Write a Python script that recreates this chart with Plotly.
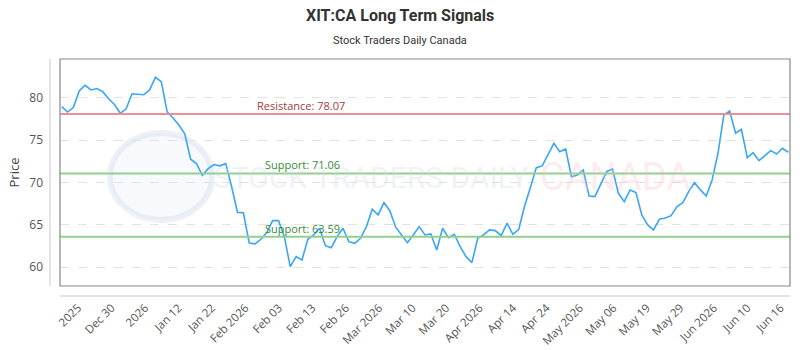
import plotly.graph_objects as go

# ---- data ----
prices = [
    78.94, 78.31, 78.87, 80.81, 81.46, 80.91, 81.08, 80.71, 79.87, 79.20,
    78.16, 78.69, 80.46, 80.44, 80.34, 80.91, 82.41, 81.87, 78.33, 77.60,
    76.78, 75.75, 72.74, 72.22, 70.84, 71.63, 72.12, 71.96, 72.24, 69.50,
    66.47, 66.42, 62.86, 62.76, 63.30, 64.10, 65.50, 65.50, 63.60, 60.07,
    61.25, 60.86, 63.30, 63.81, 64.60, 62.55, 62.31, 63.61, 64.60, 63.02,
    62.83, 63.42, 64.79, 66.84, 66.17, 67.62, 66.67, 64.72, 63.81, 62.90,
    63.81, 64.79, 63.81, 63.93, 62.04, 64.60, 63.49, 63.89, 62.43, 61.25,
    60.54, 63.42, 63.81, 64.40, 64.32, 63.73, 65.19, 63.89, 64.48, 67.23,
    69.43, 71.75, 71.95, 73.24, 74.62, 73.63, 73.95, 70.68, 70.88, 71.47,
    68.41, 68.33, 69.91, 71.28, 71.59, 68.72, 67.74, 69.12, 68.80, 66.17,
    64.99, 64.40, 65.66, 65.82, 66.08, 67.15, 67.62, 68.92, 69.98, 69.12,
    68.41, 70.29, 73.44, 77.96, 78.43, 75.80, 76.27, 72.92, 73.51, 72.57,
    73.16, 73.75, 73.36, 74.03, 73.56,
]
tick_labels = [
    "2025", "Dec 30", "2026", "Jan 12", "Jan 22", "Feb 2026", "Feb 03", "Feb 13",
    "Feb 26", "Mar 2026", "Mar 10", "Mar 20", "Apr 2026", "Apr 14", "Apr 24",
    "May 2026", "May 06", "May 19", "May 29", "Jun 2026", "Jun 10", "Jun 16",
]
resistance = 78.07
support_levels = [71.06, 63.59]

x_idx = list(range(len(prices)))
n = len(prices)
# evenly spaced label positions across the axis
tick_start = 2.8
tick_step = (n - 1 - 2 * tick_start + 1.5) / (len(tick_labels) - 1)
tickvals = [tick_start + k * tick_step for k in range(len(tick_labels))]

PW, PH = 730.0, 227.0  # plot area size in px


def py(p):  # pixel row -> paper y
    return (286 - p) / PH


def px(p):  # pixel column -> paper x
    return (p - 60) / PW


fig = go.Figure()
fig.add_trace(go.Scatter(
    x=x_idx, y=prices, mode="lines",
    line=dict(color="#3aa6f4", width=1.6),
    hoverinfo="skip", showlegend=False,
))

shapes = []
annotations = []

# watermark
shapes.append(dict(type="circle", xref="paper", yref="paper",
                   x0=px(110), x1=px(212), y0=py(220), y1=py(133),
                   line=dict(color="rgba(195,208,230,0.30)", width=6),
                   fillcolor="rgba(220,228,242,0.22)", layer="below"))
annotations.append(dict(text="STOCK TRADERS DAILY", xref="paper", yref="paper",
                        x=px(530), y=py(177), xanchor="right", showarrow=False,
                        font=dict(family="Roboto", size=30,
                                  color="rgba(205,215,232,0.32)")))
annotations.append(dict(text="CANADA", xref="paper", yref="paper",
                        x=px(538), y=py(177), xanchor="left", showarrow=False,
                        font=dict(family="Roboto", size=38,
                                  color="rgba(250,190,195,0.30)")))

# resistance / support lines
shapes.append(dict(type="line", xref="paper", yref="y", x0=0, x1=1,
                   y0=resistance, y1=resistance,
                   line=dict(color="#ee8f96", width=2)))
annotations.append(dict(text=f"Resistance: {resistance:.2f}", xref="x", yref="y",
                        x=33, y=resistance, xanchor="left", yanchor="bottom",
                        showarrow=False, yshift=-1,
                        font=dict(family="Open Sans", size=11, color="#a33a3a")))
for s in support_levels:
    shapes.append(dict(type="line", xref="paper", yref="y", x0=0, x1=1,
                       y0=s, y1=s, line=dict(color="#92d08f", width=2)))
    annotations.append(dict(text=f"Support: {s:.2f}", xref="x", yref="y",
                            x=34.4, y=s, xanchor="left", yanchor="bottom",
                            showarrow=False, yshift=-1,
                            font=dict(family="Open Sans", size=11, color="#3a8a3a")))

# title + subtitle
annotations.append(dict(text="<b>XIT:CA Long Term Signals</b>", xref="paper", yref="paper",
                        x=px(400), y=py(15), xanchor="center", yanchor="middle",
                        showarrow=False,
                        font=dict(family="Roboto", size=16, color="#333333")))
annotations.append(dict(text="Stock Traders Daily Canada", xref="paper", yref="paper",
                        x=px(400), y=py(40), xanchor="center", yanchor="middle",
                        showarrow=False,
                        font=dict(family="Roboto", size=11, color="#333333")))

# offset axis lines
shapes.append(dict(type="line", xref="paper", yref="paper",
                   x0=-10 / PW, x1=-10 / PW, y0=0, y1=1,
                   line=dict(color="#c8c8c8", width=1)))
shapes.append(dict(type="line", xref="paper", yref="paper",
                   x0=0, x1=1, y0=-10 / PH, y1=-10 / PH,
                   line=dict(color="#c8c8c8", width=1)))
# plot frame
shapes.append(dict(type="rect", xref="paper", yref="paper", x0=0, x1=1, y0=0, y1=1,
                   line=dict(color="#888888", width=1.2)))

fig.update_layout(
    width=800, height=350,
    margin=dict(l=60, r=10, t=59, b=64),
    paper_bgcolor="white", plot_bgcolor="white",
    font=dict(family="Open Sans", color="#555555"),
    shapes=shapes,
    annotations=annotations,
    xaxis=dict(
        range=[-0.29, n - 1 + 0.29], automargin=False,
        tickmode="array", tickvals=tickvals, ticktext=tick_labels,
        tickangle=-45, showgrid=False, zeroline=False, showline=False,
        ticks="", ticklabelstandoff=12,
        tickfont=dict(family="Open Sans", size=11.5, color="#555555"),
    ),
    yaxis=dict(
        range=[57.79, 84.56], automargin=False,
        tickmode="array", tickvals=[60, 65, 70, 75, 80],
        showgrid=True, gridcolor="#e2e2e2", griddash="dash", gridwidth=1,
        zeroline=False, showline=False, ticks="", ticklabelstandoff=16,
        tickfont=dict(family="Open Sans", size=12, color="#555555"),
        title=dict(text="Price", standoff=6,
                   font=dict(family="Open Sans", size=13, color="#444444")),
    ),
)

fig.write_html("out.html")
